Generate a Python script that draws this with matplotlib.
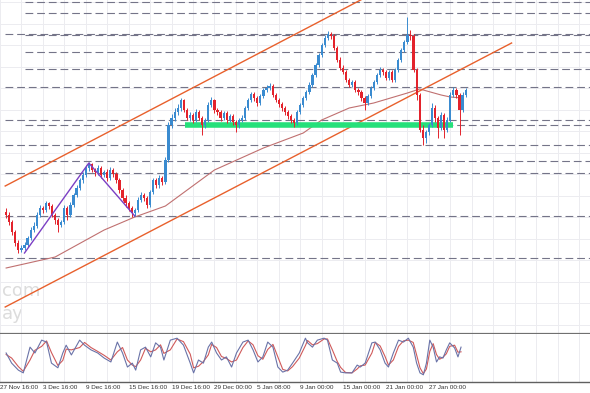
import matplotlib.pyplot as plt
import numpy as np

# price in points (higher = higher price), one candle per entry
first_open = 188
close = [185, 178, 168, 157, 150, 152, 155, 162, 170, 174,
         185, 192, 190, 197, 194, 185, 180, 175, 178, 192,
         185, 195, 205, 212, 220, 225, 232, 236, 230, 228,
         232, 225, 228, 222, 230, 226, 220, 210, 202, 197,
         192, 187, 190, 200, 205, 202, 195, 208, 220, 215,
         222, 218, 240, 275, 282, 288, 292, 300, 290, 282,
         285, 280, 288, 282, 275, 280, 295, 300, 290, 288,
         282, 287, 280, 284, 278, 275, 280, 282, 292, 300,
         306, 302, 297, 304, 310, 312, 314, 305, 300, 296,
         292, 288, 284, 280, 277, 288, 295, 302, 308, 315,
         325, 335, 345, 355, 362, 366, 364, 352, 340, 332,
         328, 320, 315, 318, 310, 308, 302, 297, 304, 312,
         318, 325, 330, 328, 322, 328, 320, 330, 340, 350,
         358, 365, 364, 330, 305, 270, 262, 268, 275, 292,
         282, 272, 285, 270, 280, 305, 310, 305, 290, 305,
         310]
high = [192, 188, 180, 170, 160, 155, 158, 164, 173, 178,
        188, 195, 194, 199, 198, 196, 187, 182, 180, 195,
        194, 198, 207, 215, 222, 228, 235, 238, 237, 232,
        235, 234, 230, 231, 233, 232, 228, 222, 212, 205,
        199, 194, 192, 203, 208, 207, 204, 210, 222, 222,
        225, 224, 243, 278, 286, 292, 296, 302, 301, 292,
        288, 287, 291, 290, 284, 282, 298, 303, 301, 292,
        290, 289, 289, 286, 286, 280, 282, 285, 294, 302,
        308, 308, 304, 306, 312, 315, 317, 316, 307, 302,
        298, 294, 290, 286, 282, 290, 297, 304, 310, 318,
        327, 337, 347, 357, 365, 369, 368, 366, 354, 343,
        335, 330, 322, 320, 320, 312, 310, 304, 306, 314,
        320, 327, 333, 332, 330, 330, 330, 332, 342, 352,
        360, 383, 370, 366, 332, 307, 275, 270, 277, 297,
        295, 284, 288, 287, 283, 308, 313, 312, 307, 308,
        312]
low = [182, 175, 165, 154, 147, 148, 150, 153, 160, 168,
       172, 183, 187, 188, 191, 183, 176, 168, 173, 176,
       180, 183, 193, 203, 210, 217, 223, 229, 228, 224,
       225, 222, 223, 219, 220, 223, 217, 207, 199, 193,
       189, 183, 184, 188, 198, 199, 192, 193, 206, 212,
       212, 215, 216, 238, 272, 279, 285, 289, 288, 280,
       279, 277, 278, 280, 265, 272, 278, 293, 287, 285,
       279, 280, 277, 278, 275, 268, 272, 278, 280, 290,
       298, 299, 294, 295, 302, 308, 310, 303, 298, 293,
       289, 285, 281, 277, 273, 275, 286, 293, 300, 306,
       313, 323, 333, 343, 353, 360, 361, 350, 338, 330,
       326, 318, 313, 313, 308, 305, 299, 290, 295, 302,
       310, 316, 323, 325, 320, 320, 318, 318, 328, 338,
       348, 356, 360, 328, 300, 268, 255, 257, 265, 273,
       278, 262, 270, 262, 268, 278, 303, 302, 265, 288,
       303]

# moving average
ma_idx = [0, 16, 32, 42, 52, 60, 68, 84, 97, 103, 112, 120, 131, 135, 142, 145, 149]
ma_val = [132, 143, 170, 183, 194, 212, 230, 252, 267, 280, 292, 297, 307, 311, 305, 303, 302]

# stochastic oscillator
stoch_idx = [0, 1.8, 4.0, 5.6, 7.8, 9.4, 11.6, 13.2, 14.8, 16.9,
             18.5, 19.6, 21.3, 24.0, 25.6, 27.7, 29.9, 32.0, 34.2, 36.3,
             38.0, 39.6, 41.2, 42.3, 43.9, 45.5, 47.2, 48.8, 50.4, 51.5,
             53.6, 55.8, 57.9, 60.1, 61.2, 62.8, 64.4, 66.0, 67.1, 68.7,
             70.3, 71.9, 73.6, 75.2, 77.3, 79.0, 80.6, 82.2, 83.8, 85.4,
             87.1, 88.7, 90.3, 91.9, 93.5, 95.7, 97.7, 98.4, 100.0, 101.6,
             103.8, 104.9, 106.5, 108.1, 109.2, 110.8, 112.9, 114.6, 115.6, 117.2,
             119.4, 120.5, 122.1, 123.7, 124.8, 126.4, 128.1, 129.7, 131.3, 132.9,
             134.0, 135.1, 136.2, 137.2, 138.3, 139.4, 140.5, 141.5, 142.6, 143.7,
             144.8, 146.4, 147.5, 148.5]
stoch_k = [59, 33, 15, 8, 74, 59, 92, 87, 33, 21,
           59, 79, 54, 92, 79, 67, 59, 46, 36, 87,
           59, 23, 33, 15, 67, 74, 49, 85, 74, 41,
           92, 97, 79, 33, 8, 41, 33, 74, 87, 59,
           41, 49, 23, 59, 87, 92, 67, 36, 49, 87,
           74, 23, 10, 15, 33, 59, 97, 85, 74, 92,
           97, 92, 41, 33, 10, 8, 8, 28, 23, 33,
           85, 87, 67, 33, 23, 59, 92, 87, 97, 74,
           33, 8, 3, 33, 92, 74, 36, 49, 46, 67,
           85, 72, 49, 74]
stoch_d = [55, 46, 24, 12, 41, 66, 76, 90, 60, 27,
           40, 69, 67, 73, 86, 73, 63, 53, 41, 62,
           73, 41, 28, 24, 41, 71, 62, 67, 80, 58,
           67, 95, 88, 56, 21, 25, 37, 54, 81, 73,
           50, 45, 36, 41, 73, 90, 80, 52, 43, 68,
           81, 49, 17, 13, 24, 46, 78, 91, 80, 83,
           95, 95, 67, 37, 22, 9, 8, 18, 26, 28,
           59, 86, 77, 50, 28, 41, 76, 90, 92, 86,
           54, 21, 6, 18, 63, 83, 55, 43, 48, 57,
           76, 79, 61, 62]

# drawn objects
levels_full = [366, 313, 280, 255, 227, 184, 142]
levels_short = [398, 387, 365, 348, 331, 275, 239]
channel_idx = [-0.3, 165]
upper_channel = [214, 479]
lower_channel = [93, 357]
zigzag_idx = [6, 27, 42]
zigzag_val = [147, 237, 184]
support_level = 275.5
support_span = [58.5, 146]

tick_idx = [-2, 12, 26, 40, 54, 68, 82, 96, 110, 124, 138]
tick_labels = ['27 Nov 16:00', '3 Dec 16:00', '9 Dec 16:00', '15 Dec 16:00',
               '19 Dec 16:00', '29 Dec 00:00', '5 Jan 08:00', '9 Jan 00:00',
               '15 Jan 00:00', '21 Jan 00:00', '27 Jan 00:00']

fig = plt.figure(figsize=(5.9, 3.93), dpi=100)
ax = fig.add_axes([0, 59 / 393, 1, 334 / 393])
ax2 = fig.add_axes([0, 11 / 393, 1, 48 / 393])

xmin, xmax = -0.32, 190.6
grid_x = np.arange(-2, 191, 7)

# main pane
ax.set_xlim(xmin, xmax)
ax.set_ylim(66, 400)
ax.set_xticks(grid_x)
ax.set_yticks(np.arange(75.5, 400, 21.5))
ax.grid(True, color='#ececf0', lw=0.7)
ax.tick_params(length=0, labelbottom=False, labelleft=False)
for s in ['top', 'left', 'right']:
    ax.spines[s].set_visible(False)
ax.spines['bottom'].set_color('#707070')
ax.spines['bottom'].set_linewidth(1.6)

ax.text(0.003, 0.13, 'com', transform=ax.transAxes, fontsize=13, color='#dcdcdc',
        ha='left', va='center', zorder=0)
ax.text(0.003, 0.06, 'ay', transform=ax.transAxes, fontsize=13, color='#dcdcdc',
        ha='left', va='center', zorder=0)

for lv in levels_full:
    ax.hlines(lv, xmin, xmax, colors='#747488', lw=0.8, linestyles=(0, (7, 3.5)), zorder=2)
for lv in levels_short:
    ax.hlines(lv, 6.2, xmax, colors='#747488', lw=0.8, linestyles=(0, (7, 3.5)), zorder=2)

ax.plot(ma_idx, ma_val, color='#c07070', lw=0.8, zorder=3)
ax.plot(channel_idx, upper_channel, color='#e8602c', lw=1.0, zorder=4)
ax.plot(channel_idx, lower_channel, color='#e8602c', lw=1.0, zorder=4)

ax.hlines(support_level, support_span[0], support_span[1], colors='#25e07a', lw=4, zorder=4)

opens = [first_open] + close[:-1]
x = np.arange(len(close))
cols = ['#3a8bd0' if c >= o else '#e3232c' for o, c in zip(opens, close)]
ax.vlines(x, low, high, colors=cols, lw=0.7, zorder=5)
body = [max(abs(c - o), 0.8) for o, c in zip(opens, close)]
ax.bar(x, body, bottom=[min(o, c) for o, c in zip(opens, close)], width=0.72,
       color=cols, lw=0, zorder=6)

ax.plot(zigzag_idx, zigzag_val, color='#7b3fc4', lw=1.0, zorder=7)

# stochastic pane
ax2.set_xlim(xmin, xmax)
ax2.set_ylim(-15.4, 107.7)
labels = []
for t in grid_x:
    labels.append(tick_labels[tick_idx.index(t)] if t in tick_idx else '')
ax2.set_xticks(grid_x, labels)
for lab in ax2.get_xticklabels():
    lab.set_horizontalalignment('left')
ax2.set_yticks([])
ax2.grid(True, axis='x', color='#ececf0', lw=0.7)
ax2.tick_params(axis='x', length=0, pad=2.5, labelsize=4.6, labelcolor='#333333')
for lab in ax2.get_xticklabels():
    lab.set_family('Liberation Sans')
for s in ['top', 'left', 'right']:
    ax2.spines[s].set_visible(False)
ax2.spines['bottom'].set_color('#606060')
ax2.spines['bottom'].set_linewidth(1.0)

ax2.plot(stoch_idx, stoch_d, color='#d05a5a', lw=0.8)
ax2.plot(stoch_idx, stoch_k, color='#6a73a8', lw=0.8)

fig.savefig('out.png', dpi=100, facecolor='white')
